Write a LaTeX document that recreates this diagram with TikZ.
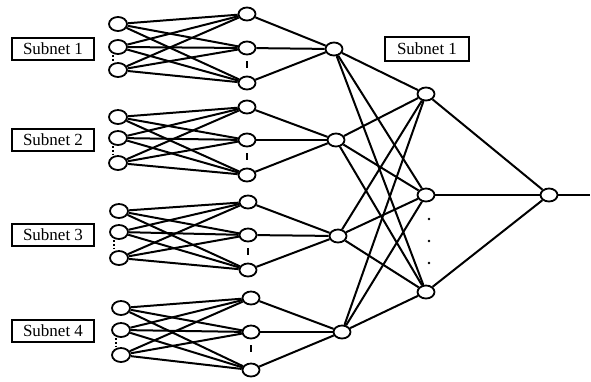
\documentclass[tikz,border=0pt]{standalone}
\usepackage{fontspec}
\setmainfont{Liberation Serif}
\usetikzlibrary{shapes.geometric}
\begin{document}
\begin{tikzpicture}[x=1pt,y=-1pt,
  neuron/.style={draw,ellipse,line width=1.8pt,minimum width=17pt,minimum height=13pt,inner sep=0pt,fill=white},
  inneuron/.style={neuron,minimum width=18pt,minimum height=14pt},
  link/.style={line width=2pt},
  tag/.style={draw,line width=1.6pt,minimum width=82pt,minimum height=22pt,inner sep=0pt,font=\fontsize{17}{17}\selectfont},
  gap/.style={line width=1.8pt,dotted},
]
\useasboundingbox (0,0) rectangle (591,381);

% one small network per subnet: input x, hidden x, input rows, hidden rows, tag row
\foreach \k/\xi/\xh/\ia/\ib/\ic/\ha/\hb/\hc/\ty in {
  1/118/247/24/47/70/14/48/83/49,
  2/118/247/117/138/163/107/140/175/140,
  3/119/248/211/232/258/202/235/270/235,
  4/121/251/308/330/355/298/332/370/331}{
  \node[tag] (tag-\k) at (53,\ty) {Subnet \k};
  \node[inneuron] (in-\k-1) at (\xi,\ia) {};
  \node[inneuron] (in-\k-2) at (\xi,\ib) {};
  \node[inneuron] (in-\k-3) at (\xi,\ic) {};
  \node[neuron] (hid-\k-1) at (\xh,\ha) {};
  \node[neuron] (hid-\k-2) at (\xh,\hb) {};
  \node[neuron] (hid-\k-3) at (\xh,\hc) {};
  \foreach \i in {1,2,3}{
    \foreach \j in {1,2,3}{
      \draw[link] (in-\k-\i) -- (hid-\k-\j);
    }
  }
  % elided units
  \coordinate (ga-\k) at ([xshift=-5pt,yshift=-8pt]in-\k-2.center);
  \coordinate (gb-\k) at ([xshift=-5pt,yshift=8pt]in-\k-3.center);
  \draw[gap] (ga-\k) -- (gb-\k);
  \coordinate (ha-\k) at ([yshift=-13pt]hid-\k-2.center);
  \coordinate (hb-\k) at ([yshift=-20pt]hid-\k-2.center);
  \draw[line width=2.4pt] (ha-\k) -- (hb-\k);
}

% subnet outputs
\node[neuron] (sub-1) at (334,49) {};
\node[neuron] (sub-2) at (336,140) {};
\node[neuron] (sub-3) at (338,236) {};
\node[neuron] (sub-4) at (342,332) {};

% combining layer
\node[neuron] (mid-1) at (426,94) {};
\node[neuron] (mid-2) at (426,195) {};
\node[neuron] (mid-3) at (426,292) {};
\node[neuron] (out) at (549,195) {};
\coordinate (end) at (590,195);

\node[tag,minimum width=84pt,minimum height=24pt] (tag-top) at (427,49) {Subnet 1};

\foreach \k in {1,2,3,4}{
  \foreach \j in {1,2,3}{
    \draw[link] (hid-\k-\j) -- (sub-\k);
    \draw[link] (sub-\k) -- (mid-\j);
  }
}
\foreach \j in {1,2,3}{
  \draw[link] (mid-\j) -- (out);
}
\draw[link] (out) -- (end);

% elided combining units
\foreach \y in {219,241,263}{
  \fill (429,\y) circle (1.4pt);
}
\end{tikzpicture}
\end{document}
